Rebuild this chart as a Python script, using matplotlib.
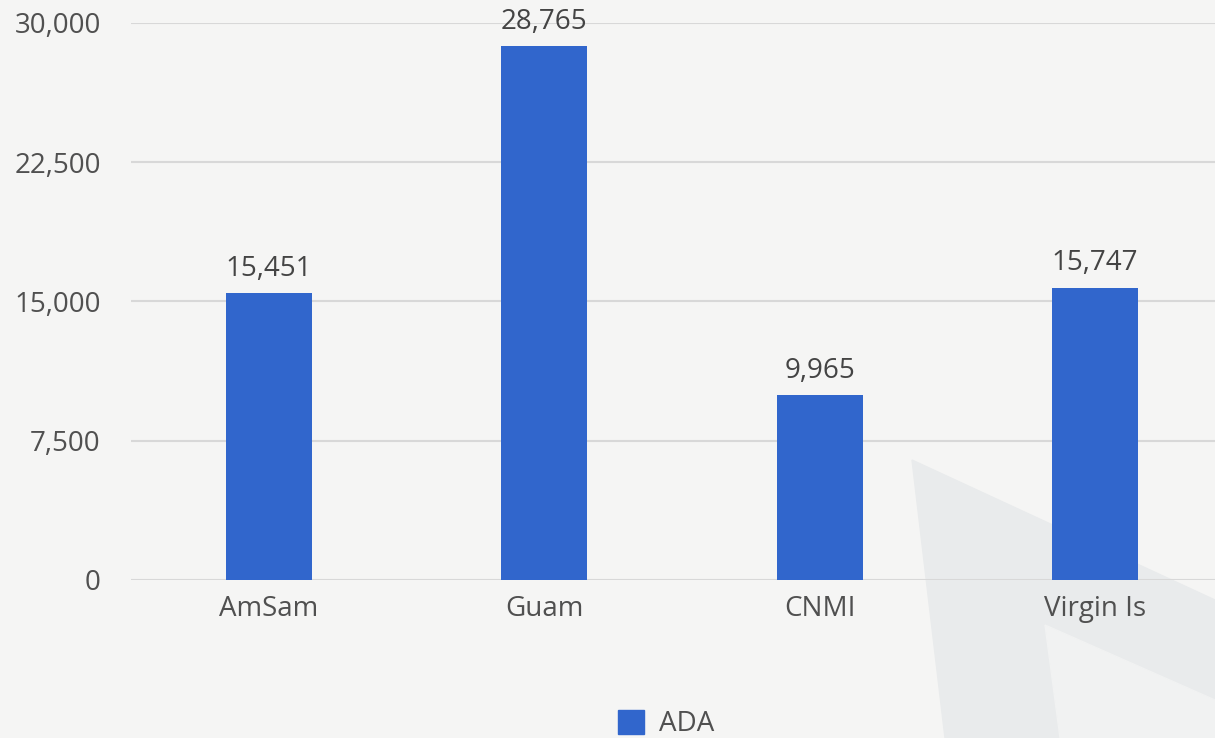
import matplotlib.pyplot as plt
from matplotlib.ticker import FuncFormatter
from matplotlib.patches import Rectangle, Polygon

categories = ["AmSam", "Guam", "CNMI", "Virgin Is"]
ada_values = [15451, 28765, 9965, 15747]
y_ticks = [0, 7500, 15000, 22500, 30000]

plt.rcParams['font.family'] = ['Open Sans', 'DejaVu Sans']

W, H = 1215, 738
fig = plt.figure(figsize=(W / 100, H / 100), dpi=100)
fig.patch.set_facecolor("#f5f5f4")

def px(points):
    return [(x / W, 1 - y / H) for x, y in points]

# faint background shapes (photo backdrop in the original)
fig.patches.append(Polygon(px([(912, 460), (1215, 600), (1215, 738), (945, 738)]),
                           closed=True, transform=fig.transFigure, color="#e9ebec", zorder=-2))
fig.patches.append(Polygon(px([(1045, 625), (1215, 700), (1215, 738), (1060, 738)]),
                           closed=True, transform=fig.transFigure, color="#f1f2f2", zorder=-1))

step = (1095 - 269) / 3
left = 269 - step / 2
ax = fig.add_axes([left / W, 1 - 580 / H, 1 - left / W, (580 - 23) / H])
ax.set_facecolor("none")
ax.set_zorder(1)

x = range(len(categories))
bars = ax.bar(x, ada_values, width=86 / step, color="#3166cc", label="ADA", zorder=3)
for b, v in zip(bars, ada_values):
    ax.text(b.get_x() + b.get_width() / 2, v + 550, f"{v:,}", ha="center", va="bottom",
            fontsize=20, color="#444444")

ax.set_xlim(-0.5, (W - left) / step - 0.5)
ax.set_ylim(0, 30000)
ax.set_yticks(y_ticks)
ax.yaxis.set_major_formatter(FuncFormatter(lambda v, p: f"{int(v):,}"))
ax.set_xticks(list(x))
ax.set_xticklabels(categories)
ax.tick_params(axis="both", length=0, labelsize=20, labelcolor="#505050")
ax.tick_params(axis="y", pad=22)
ax.tick_params(axis="x", pad=11)
ax.grid(axis="y", color="#d8d8d8", linewidth=1.5, zorder=0)
for s in ax.spines.values():
    s.set_visible(False)

leg = fig.legend(handles=[Rectangle((0, 0), 1, 1, color="#3166cc")], labels=["ADA"],
                 loc="center", bbox_to_anchor=(666 / W, 1 - 724 / H), frameon=False,
                 fontsize=20, handlelength=0.95, handleheight=0.95, handletextpad=0.55)
leg.set_zorder(2)
for t in leg.get_texts():
    t.set_color("#505050")

fig.savefig("out.png", dpi=100, facecolor=fig.get_facecolor())
